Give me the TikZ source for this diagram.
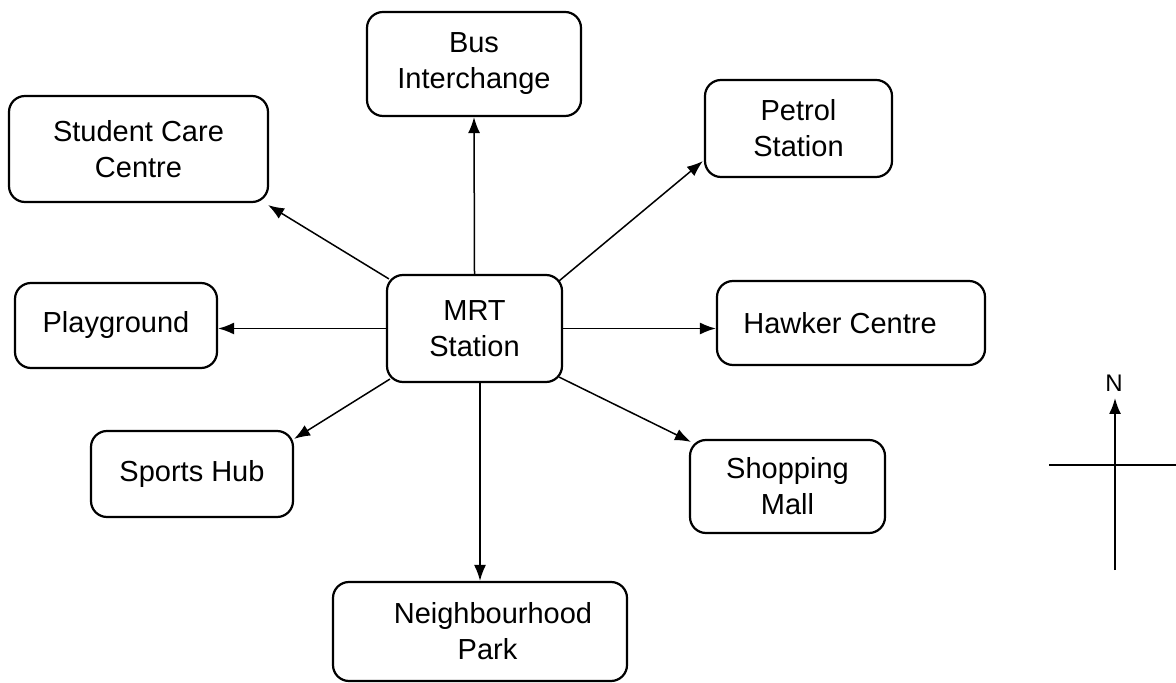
\documentclass[tikz,border=0pt]{standalone}
\usepackage{fontspec}
\setmainfont{Liberation Sans}
\usetikzlibrary{arrows.meta,calc}
\begin{document}
\begin{tikzpicture}[x=0.5pt,y=-0.5pt,
  place/.style={draw,line width=1.1pt,rounded corners=8pt,align=center,inner sep=0pt,
    font=\fontsize{14.5pt}{18pt}\selectfont},
  arr/.style={line width=0.75pt,-{Latex[length=8pt,width=6pt]}}]
\useasboundingbox (0,0) rectangle (1176,683);
\node[place,minimum width=107pt,minimum height=52pt] (bus) at (474,64) {Bus\\Interchange};
\node[place,minimum width=129.5pt,minimum height=53pt] (sc) at (138.5,149) {Student Care\\Centre};
\node[place,minimum width=93.5pt,minimum height=48.5pt] (ps) at (798.5,128.5) {Petrol\\Station};
\node[place,minimum width=101pt,minimum height=42.5pt] (pg) at (116,325.5) {Playground};
\node[place,minimum width=87.5pt,minimum height=53.5pt] (mrt) at (474.5,328.5) {MRT\\Station};
\node[place,minimum width=134pt,minimum height=42pt] (hc) at (851,323) {Hawker Centre\hspace*{11pt}};
\node[place,minimum width=101pt,minimum height=43pt] (sh) at (192,474) {Sports Hub};
\node[place,minimum width=97.5pt,minimum height=46.5pt] (sm) at (787.5,486.5) {Shopping\\Mall};
\node[place,minimum width=147pt,minimum height=49.5pt] (park) at (480,631.5) {\hspace*{13pt}Neighbourhood\\\hspace*{7.5pt}Park};
% connectors
\draw[arr] (mrt.north) -- (bus.south);
\draw[arr] ($(mrt.north west)+(3,5)$) -- ($(sc.south east)+(-1,2)$);
\draw[arr] ($(mrt.north east)+(-4,7)$) -- ($(ps.south west)+(-1,-17)$);
\draw[arr] (mrt.west) -- (mrt.west -| pg.east);
\draw[arr] (mrt.east) -- (mrt.east -| hc.west);
\draw[arr] ($(mrt.south west)+(4,-4)$) -- ($(sh.north east)+(0,9)$);
\draw[arr] ($(mrt.south east)+(-4,-6)$) -- ($(sm.north west)+(2,3)$);
\draw[arr] (park.north |- mrt.south) -- (park.north);
% compass
\coordinate (cs) at (1115,570);
\coordinate (cn) at (1115,398);
\coordinate (cw) at (1049,465);
\coordinate (ce) at (1176,465);
\node[font=\fontsize{12pt}{14pt}\selectfont,inner sep=0pt] (north) at (1114,383) {N};
\draw[line width=0.9pt,-{Latex[length=8pt,width=6pt]}] (cs) -- (cn);
\draw[line width=0.9pt] (cw) -- (ce);
\end{tikzpicture}
\end{document}
